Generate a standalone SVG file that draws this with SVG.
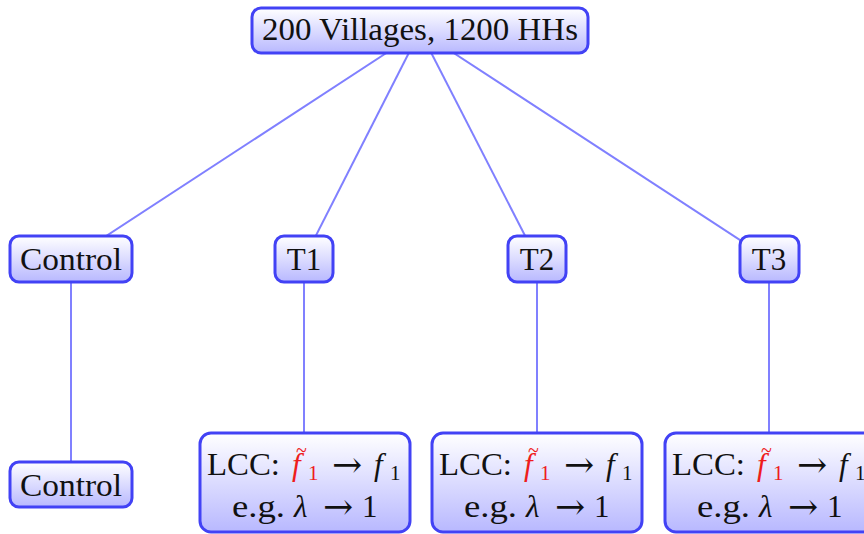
<svg xmlns="http://www.w3.org/2000/svg" width="864" height="534" viewBox="0 0 864 534">
  <defs>
    <linearGradient id="boxFill" x1="0" y1="0" x2="0" y2="1">
      <stop offset="0" stop-color="#ffffff"/>
      <stop offset="1" stop-color="#b8b8ff"/>
    </linearGradient>
    <style>
      .box { fill: url(#boxFill); stroke: #4242f5; stroke-width: 3; }
      .edge { stroke: #8080ff; stroke-width: 2; fill: none; }
      .lbl { font-family: "Liberation Serif", "DejaVu Serif", serif; font-size: 31px; fill: #111; }
      .mi { font-style: italic; }
      .sub { font-size: 21px; font-style: normal; }
      .red { fill: #ee1c1c; }
      .arr { font-family: "DejaVu Serif", serif; font-size: 36px; }
      .tilde { font-size: 20px; font-style: normal; }
    </style>
  </defs>
  <rect width="864" height="534" fill="#ffffff"/>

  <!-- connectors, drawn centre to centre under the boxes -->
  <g id="connectors">
    <line class="edge" x1="420" y1="31" x2="71" y2="259"/>
    <line class="edge" x1="420" y1="31" x2="304" y2="259"/>
    <line class="edge" x1="420" y1="31" x2="537" y2="259"/>
    <line class="edge" x1="420" y1="31" x2="769" y2="259"/>
    <line class="edge" x1="71" y1="282" x2="71" y2="462"/>
    <line class="edge" x1="304" y1="282" x2="304" y2="433"/>
    <line class="edge" x1="537" y1="282" x2="537" y2="433"/>
    <line class="edge" x1="769" y1="282" x2="769" y2="433"/>
  </g>

  <g id="root">
    <rect class="box" x="252" y="8" width="336" height="45" rx="9"/>
    <text class="lbl" x="262" y="40" textLength="316" lengthAdjust="spacingAndGlyphs">200 Villages, 1200 HHs</text>
  </g>

  <g id="control">
    <rect class="box" x="10" y="236" width="122" height="46" rx="9"/>
    <text class="lbl" x="20" y="270" textLength="102" lengthAdjust="spacingAndGlyphs">Control</text>
  </g>
  <g id="t1">
    <rect class="box" x="275" y="236" width="58" height="46" rx="9"/>
    <text class="lbl" x="304" y="270" text-anchor="middle">T1</text>
  </g>
  <g id="t2">
    <rect class="box" x="508" y="236" width="58" height="46" rx="9"/>
    <text class="lbl" x="537" y="270" text-anchor="middle">T2</text>
  </g>
  <g id="t3">
    <rect class="box" x="740" y="236" width="59" height="46" rx="9"/>
    <text class="lbl" x="769" y="270" text-anchor="middle">T3</text>
  </g>

  <g id="control-outcome">
    <rect class="box" x="10" y="462" width="122" height="45" rx="9"/>
    <text class="lbl" x="20" y="496" textLength="102" lengthAdjust="spacingAndGlyphs">Control</text>
  </g>

  <!-- LCC outcome boxes share one layout, shifted per arm -->
  <g id="lcc-t1" transform="translate(200,433)">
    <rect class="box" x="0" y="0" width="210" height="99" rx="11"/>
    <text class="lbl" x="7" y="42" textLength="73" lengthAdjust="spacingAndGlyphs">LCC:</text>
    <text class="lbl mi red" x="92" y="42">f<tspan class="tilde" x="96" y="24">~</tspan><tspan class="sub" x="108" y="47">1</tspan></text>
    <text class="lbl arr" x="147" y="44" text-anchor="middle">→</text>
    <text class="lbl mi" x="174" y="42">f<tspan class="sub" x="190" y="47">1</tspan></text>
    <text class="lbl" x="32" y="84" textLength="53" lengthAdjust="spacingAndGlyphs">e.g.</text>
    <text class="lbl mi" x="94" y="84">λ</text>
    <text class="lbl arr" x="138" y="86" text-anchor="middle">→</text>
    <text class="lbl" x="162" y="84">1</text>
  </g>
  <g id="lcc-t2" transform="translate(432,433)">
    <rect class="box" x="0" y="0" width="210" height="99" rx="11"/>
    <text class="lbl" x="7" y="42" textLength="73" lengthAdjust="spacingAndGlyphs">LCC:</text>
    <text class="lbl mi red" x="92" y="42">f<tspan class="tilde" x="96" y="24">~</tspan><tspan class="sub" x="108" y="47">1</tspan></text>
    <text class="lbl arr" x="147" y="44" text-anchor="middle">→</text>
    <text class="lbl mi" x="174" y="42">f<tspan class="sub" x="190" y="47">1</tspan></text>
    <text class="lbl" x="32" y="84" textLength="53" lengthAdjust="spacingAndGlyphs">e.g.</text>
    <text class="lbl mi" x="94" y="84">λ</text>
    <text class="lbl arr" x="138" y="86" text-anchor="middle">→</text>
    <text class="lbl" x="162" y="84">1</text>
  </g>
  <g id="lcc-t3" transform="translate(665,433)">
    <rect class="box" x="0" y="0" width="210" height="99" rx="11"/>
    <text class="lbl" x="7" y="42" textLength="73" lengthAdjust="spacingAndGlyphs">LCC:</text>
    <text class="lbl mi red" x="92" y="42">f<tspan class="tilde" x="96" y="24">~</tspan><tspan class="sub" x="108" y="47">1</tspan></text>
    <text class="lbl arr" x="147" y="44" text-anchor="middle">→</text>
    <text class="lbl mi" x="174" y="42">f<tspan class="sub" x="190" y="47">1</tspan></text>
    <text class="lbl" x="32" y="84" textLength="53" lengthAdjust="spacingAndGlyphs">e.g.</text>
    <text class="lbl mi" x="94" y="84">λ</text>
    <text class="lbl arr" x="138" y="86" text-anchor="middle">→</text>
    <text class="lbl" x="162" y="84">1</text>
  </g>
</svg>
